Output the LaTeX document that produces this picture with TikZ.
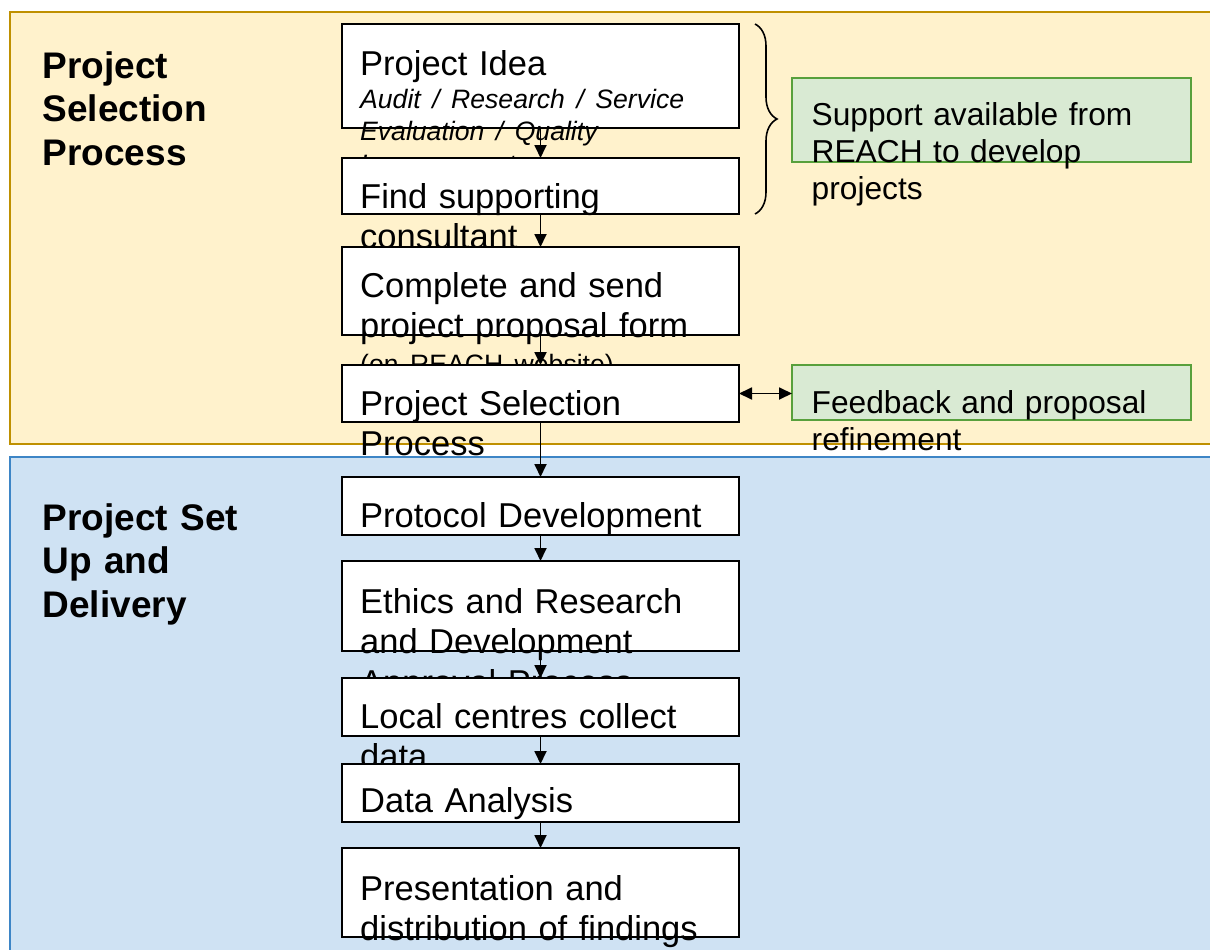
\documentclass[tikz,border=0pt]{standalone}
\usepackage{fontspec}
\setmainfont{Liberation Sans}
\usetikzlibrary{arrows.meta,decorations.pathreplacing}
\definecolor{orfill}{HTML}{FFF2CC}
\definecolor{ordraw}{HTML}{BF9000}
\definecolor{blfill}{HTML}{CFE2F3}
\definecolor{bldraw}{HTML}{3D85C6}
\definecolor{grfill}{HTML}{D9EAD3}
\definecolor{grdraw}{HTML}{58A03C}
\begin{document}
\begin{tikzpicture}[x=1pt,y=-1pt,
  panelor/.style={fill=orfill,draw=ordraw,line width=2pt},
  panelbl/.style={fill=blfill,draw=bldraw,line width=2pt},
  box/.style={draw=black,line width=1.8pt,fill=white,minimum width=397pt,inner sep=0pt,outer sep=0pt},
  gbox/.style={draw=grdraw,line width=1.8pt,fill=grfill,minimum width=399pt,inner sep=0pt,outer sep=0pt},
  txt/.style={anchor=base west,inner sep=0pt,text width=390pt,align=left,font={\fontsize{34.5}{40.5}\selectfont}},
  gtxt/.style={anchor=base west,inner sep=0pt,text width=390pt,align=left,font={\fontsize{31.7}{37}\selectfont}},
  head/.style={anchor=base west,inner sep=0pt,text width=300pt,align=left,font={\fontsize{37}{43.5}\selectfont\bfseries}},
  tip/.tip={Triangle[length=13pt,width=12pt]},
  arr/.style={line width=1.8pt,-tip},
  darr/.style={line width=1.8pt,tip-tip},
  bracestyle/.style={line width=1.6pt,decorate,decoration={brace,amplitude=22pt}}
]
\useasboundingbox (0,0) rectangle (1210,950);
\clip (0,0) rectangle (1210,950);
\fill[white] (0,0) rectangle (1210,950);
% panels
\path[panelor] (10,12) rectangle (1225,444);
\path[panelbl] (10,457) rectangle (1225,965);
% headings
\node[head] (h1) at (42.5,78) {Project\\Selection\\Process};
\node[head] (h2) at (42.5,530) {Project Set\\Up and\\Delivery};
% boxes
\node[box,minimum height=104pt] (b1) at (540.5,76) {};
\node[txt] (t1) at (360,75) {Project Idea\par
  {\fontsize{26.6}{33}\selectfont\itshape Audit / Research / Service\\Evaluation / Quality\\Improvement\par}};
\node[box,minimum height=56pt] (b2) at (540.5,186) {};
\node[txt] (t2) at (360,208) {Find supporting\\consultant};
\node[box,minimum height=88pt] (b3) at (540.5,291) {};
\node[txt] (t3) at (360,297) {Complete and send\\project proposal form\par
  {\fontsize{26.6}{36}\selectfont (on REACH website)\par}};
\node[box,minimum height=57pt] (b4) at (540.5,393.5) {};
\node[txt] (t4) at (360,415) {Project Selection\\Process};
\node[box,minimum height=58pt] (b5) at (540.5,506) {};
\node[txt] (t5) at (360,527) {Protocol Development};
\node[box,minimum height=90pt] (b6) at (540.5,606) {};
\node[txt] (t6) at (360,613) {Ethics and Research\\and Development\\Approval Process};
\node[box,minimum height=58pt] (b7) at (540.5,707) {};
\node[txt] (t7) at (360,728) {Local centres collect\\data};
\node[box,minimum height=58pt] (b8) at (540.5,793) {};
\node[txt] (t8) at (360,812) {Data Analysis};
\node[box,minimum height=89pt] (b9) at (540.5,892.5) {};
\node[txt] (t9) at (360,900) {Presentation and\\distribution of findings};
% green boxes
\node[gbox,minimum height=84pt] (g1) at (991.5,120) {};
\node[gtxt] (gt1) at (811.5,125) {Support available from\\REACH to develop\\projects};
\node[gbox,minimum height=55pt] (g2) at (991.5,392.5) {};
\node[gtxt] (gt2) at (811.5,413) {Feedback and proposal\\refinement};
% brace
\coordinate (brT) at (755,24);
\coordinate (brB) at (755,214);
\draw[bracestyle] (brT) -- (brB);
% arrows
\draw[arr] (b1.south) -- (b2.north);
\draw[arr] (b2.south) -- (b3.north);
\draw[arr] (b3.south) -- (b4.north);
\draw[arr] (b4.south) -- (b5.north);
\draw[arr] (b5.south) -- (b6.north);
\draw[arr] (b6.south) -- (b7.north);
\draw[arr] (b7.south) -- (b8.north);
\draw[arr] (b8.south) -- (b9.north);
\draw[darr] (b4.east) -- (b4.east -| g2.west);
\end{tikzpicture}
\end{document}
